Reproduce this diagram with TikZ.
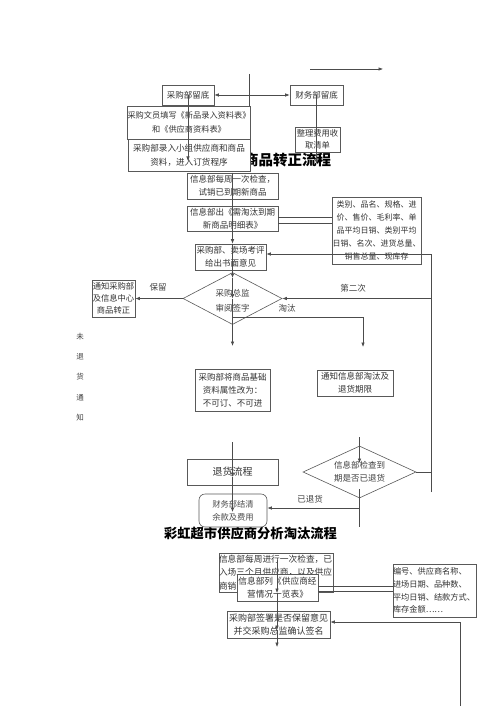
\documentclass[tikz,border=0pt]{standalone}
\usepackage{fontspec}
\newfontfamily\cjk{Noto Sans CJK SC}
\usetikzlibrary{arrows.meta,shapes.geometric}
\tikzset{
  box/.style={draw=black!65, fill=white, line width=0.6pt, inner sep=0pt, align=center, text=black!80, font=\cjk\fontsize{8.5}{13}\selectfont},
  dia/.style={diamond, draw=black!65, fill=white, line width=0.6pt, inner sep=0pt},
  ln/.style={draw=black!70, line width=0.6pt},
  arr/.style={ln, -{Latex[length=4.5pt,width=3.5pt]}},
  dbl/.style={ln, {Latex[length=4.5pt,width=3.5pt]}-{Latex[length=4.5pt,width=3.5pt]}},
  lbl/.style={font=\cjk\fontsize{8.5}{13}\selectfont, text=black!75, inner sep=0pt, align=center},
  ttl/.style={font=\cjk\bfseries, inner sep=0pt, text=black}
}
\begin{document}
\begin{tikzpicture}[x=1pt,y=-1pt]
\useasboundingbox (0,0) rectangle (500,708);
% titles
\node[ttl, font=\cjk\bfseries\fontsize{14.5}{16}\selectfont] (title1) at (287.5,160) {商品转正流程};
\node[ttl, font=\cjk\bfseries\fontsize{13.3}{15}\selectfont] (title2) at (250.5,533) {彩虹超市供应商分析淘汰流程};
% top section
\node[box, minimum width=52pt, minimum height=20pt] (n1) at (188,95) {采购部留底};
\node[box, minimum width=53pt, minimum height=20pt] (n2) at (316.5,95) {财务部留底};
\node[box, minimum width=122pt, minimum height=33pt, font=\cjk\fontsize{8.2}{14}\selectfont] (n3) at (189,122.5) {采购文员填写《新品录入资料表》\\和《供应商资料表》};
\node[box, minimum width=122pt, minimum height=32pt, font=\cjk\fontsize{8.6}{14}\selectfont] (n4) at (189,155) {采购部录入小组供应商和商品\\资料，进入订货程序};
\node[box, minimum width=45pt, minimum height=25pt, font=\cjk\fontsize{8.3}{12.5}\selectfont] (n5) at (317.5,139.5) {整理费用收\\取清单};
% middle section
\node[box, minimum width=91pt, minimum height=26pt] (n6) at (232.5,186) {信息部每周一次检查，\\试销已到期新商品};
\node[box, minimum width=91pt, minimum height=25pt] (n7) at (232.5,218.5) {信息部出《需淘汰到期\\新商品明细表》};
\node[box, minimum width=89pt, minimum height=67pt, font=\cjk\fontsize{8}{13.2}\selectfont] (n8) at (376.5,230.5) {类别、品名、规格、进\\价、售价、毛利率、单\\品平均日销、类别平均\\日销、名次、进货总量、\\销售总量、现库存};
\node[box, minimum width=71pt, minimum height=26pt] (n9) at (230.5,257) {采购部、卖场考评\\给出书面意见};
\node[dia, minimum width=99pt, minimum height=52pt] (d1) at (232.5,298.5) {};
\node[lbl, font=\cjk\fontsize{8.5}{15}\selectfont] (d1t) at (232.5,300.5) {采购总监\\审阅签字};
\node[box, minimum width=43pt, minimum height=37pt, font=\cjk\fontsize{8.3}{11.7}\selectfont] (n10) at (113.5,298.5) {通知采购部\\及信息中心\\商品转正};
\node[lbl, font=\cjk\fontsize{7.5}{20.2}\selectfont] (side) at (80,377) {未\\退\\货\\通\\知};
\node[box, minimum width=75pt, minimum height=42pt, font=\cjk\fontsize{8.5}{13}\selectfont] (n11) at (232.5,390) {采购部将商品基础\\资料属性改为：\\不可订、不可进};
\node[box, minimum width=76pt, minimum height=26pt] (n12) at (355,383) {通知信息部淘汰及\\退货期限};
\node[box, minimum width=91pt, minimum height=26pt, font=\cjk\fontsize{10}{12}\selectfont] (n13) at (232.5,472) {退货流程};
\node[dia, minimum width=113pt, minimum height=52pt] (d2) at (359.5,472) {};
\node[lbl, font=\cjk\fontsize{8.5}{12.5}\selectfont] (d2t) at (359.5,471.5) {信息部检查到\\期是否已退货};
\node[box, rounded corners=6pt, minimum width=68pt, minimum height=33pt, font=\cjk\fontsize{8.3}{13}\selectfont, text=black!70] (n14) at (233,510.5) {财务部结清\\余款及费用};
% bottom section
\node[box, minimum width=114pt, minimum height=39pt, font=\cjk\fontsize{8.7}{13.3}\selectfont, align=left, text width=114pt] (n15) at (276,572.5) {信息部每周进行一次检查，已\\入场三个月供应商，以及供应\\商销};
\node[box, minimum width=81pt, minimum height=27pt, font=\cjk\fontsize{8.7}{13}\selectfont] (n16) at (277.5,587.5) {信息部列《供应商经\\营情况一览表》};
\node[box, minimum width=83pt, minimum height=53pt, font=\cjk\fontsize{8.2}{12.8}\selectfont, align=left, text width=83pt] (n17) at (434.5,590.5) {编号、供应商名称、\\进场日期、品种数、\\平均日销、结款方式、\\库存金额……};
\node[box, minimum width=103pt, minimum height=27pt, font=\cjk\fontsize{9}{13}\selectfont] (n18) at (278.5,624.5) {采购部签署是否保留意见\\并交采购总监确认签名};
% labels
\node[lbl] (lb1) at (158,287) {保留};
\node[lbl] (lb2) at (353,288) {第二次};
\node[lbl] (lb3) at (287,308) {淘汰};
\node[lbl] (lb4) at (310,499) {已退货};
% coordinates
\coordinate (t1) at (310,69);
\coordinate (t2) at (383,69);
\coordinate (c22) at (249.5,74);
\coordinate (c1) at (188,161);
\coordinate (c2) at (316.5,164);
\coordinate (c4) at (232.5,278);
\coordinate (c5) at (232.5,346);
\coordinate (r1) at (431,254);
\coordinate (r2) at (431,298.5);
\coordinate (r3) at (431,492);
\coordinate (t3) at (232.5,317);
\coordinate (c6) at (363,347);
\coordinate (c7) at (359.5,437);
\coordinate (c8) at (359.5,463);
\coordinate (c9) at (359.5,489);
\coordinate (c10) at (359.5,527);
\coordinate (c11) at (359.5,508);
\coordinate (c12) at (232.5,442);
\coordinate (c13) at (232.5,477);
\coordinate (c14) at (232.5,512);
\coordinate (c15) at (277,560);
\coordinate (c16) at (277,593);
\coordinate (c17) at (277,630);
\coordinate (c18) at (277,647);
\coordinate (e1) at (318,586);
\coordinate (e2) at (318,591);
\coordinate (c20) at (460,622);
\coordinate (c21) at (460,706);
% connectors
\draw[arr] (t1) -- (t2);
\draw[ln] (c22) -- (c22 |- n3.north);
\draw[dbl] (n1) -- (n2);
\draw[arr] (n1.center) -- (c1);
\draw[arr] (n2.center) -- (c2);
\draw[arr] (n6.north) -- (n6.north |- n9.north);
\draw[arr] (n6.north |- n9.north) -- (c4);
\draw[arr] (c4) -- (d1.center);
\draw[arr] (d1.center) -- (c5);
\draw[ln] (n7.east |- 0,217) -- (n8.west |- 0,217);
\draw[ln] (n7.east |- 0,223) -- (n8.west |- 0,223);
\draw[ln] (r3) -- (r1);
\draw[arr] (r1) -- (r1 -| n9.east);
\draw[arr] (r2) -- (d1.east);
\draw[arr] (d1.west) -- (n10.east);
\draw[arr] (t3) -| (c6);
\draw[arr] (c7) -- (c8);
\draw[ln] (d2.east) -- (d2.east -| r1);
\draw[ln] (c9) -- (c10);
\draw[arr] (c11) -- (c11 -| n14.east);
\draw[arr] (c12) -- (c13);
\draw[arr] (c13) -- (c14);
\draw[arr] (c15) -- (c16);
\draw[arr] (c16) -- (c17);
\draw[arr] (c17) -- (c18);
\draw[ln] (e1) -- (e1 -| n17.west);
\draw[ln] (e2) -- (e2 -| n17.west);
\draw[ln] (c21) -- (c20);
\draw[arr] (c20) -- (c20 -| n18.east);
\end{tikzpicture}
\end{document}
